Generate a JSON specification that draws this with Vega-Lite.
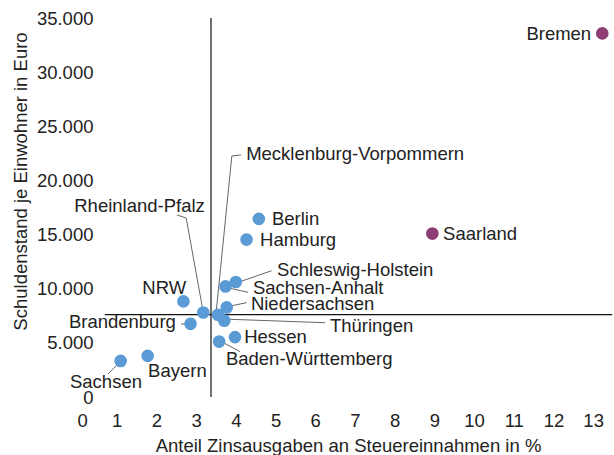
{
  "$schema": "https://vega.github.io/schema/vega-lite/v6.json",
  "width": 536,
  "height": 379,
  "autosize": {"type": "none"},
  "padding": {"left": 77, "top": 18, "right": 1, "bottom": 58},
  "config": {
    "view": {"stroke": null},
    "font": "Liberation Sans",
    "text": {"font": "Liberation Sans", "fontSize": 18.5, "color": "#222222"}
  },
  "datasets": {
    "laender": [
      {"land": "Bremen", "zins": 13.23, "schulden": 33580, "gruppe": "Haushaltsnotlage"},
      {"land": "Saarland", "zins": 8.95, "schulden": 15090, "gruppe": "Haushaltsnotlage"},
      {"land": "Berlin", "zins": 4.58, "schulden": 16450, "gruppe": "übrige"},
      {"land": "Hamburg", "zins": 4.27, "schulden": 14540, "gruppe": "übrige"},
      {"land": "Schleswig-Holstein", "zins": 4.0, "schulden": 10620, "gruppe": "übrige"},
      {"land": "Sachsen-Anhalt", "zins": 3.74, "schulden": 10210, "gruppe": "übrige"},
      {"land": "Niedersachsen", "zins": 3.77, "schulden": 8270, "gruppe": "übrige"},
      {"land": "Mecklenburg-Vorpommern", "zins": 3.55, "schulden": 7600, "gruppe": "übrige"},
      {"land": "Thüringen", "zins": 3.71, "schulden": 7050, "gruppe": "übrige"},
      {"land": "Hessen", "zins": 3.98, "schulden": 5530, "gruppe": "übrige"},
      {"land": "Baden-Württemberg", "zins": 3.58, "schulden": 5120, "gruppe": "übrige"},
      {"land": "Rheinland-Pfalz", "zins": 3.18, "schulden": 7800, "gruppe": "übrige"},
      {"land": "NRW", "zins": 2.68, "schulden": 8830, "gruppe": "übrige"},
      {"land": "Brandenburg", "zins": 2.86, "schulden": 6760, "gruppe": "übrige"},
      {"land": "Bayern", "zins": 1.78, "schulden": 3800, "gruppe": "übrige"},
      {"land": "Sachsen", "zins": 1.1, "schulden": 3330, "gruppe": "übrige"}
    ],
    "beschriftung": [
      {"land": "Bremen", "lx": 12.95, "ly": 33520},
      {"land": "Saarland", "lx": 9.22, "ly": 15050},
      {"land": "Berlin", "lx": 4.91, "ly": 16440},
      {"land": "Hamburg", "lx": 4.61, "ly": 14500},
      {"land": "Schleswig-Holstein", "lx": 5.04, "ly": 11770},
      {"land": "Sachsen-Anhalt", "lx": 4.43, "ly": 10070},
      {"land": "Niedersachsen", "lx": 4.38, "ly": 8590},
      {"land": "Thüringen", "lx": 6.37, "ly": 6560},
      {"land": "Hessen", "lx": 4.21, "ly": 5540},
      {"land": "Baden-Württemberg", "lx": 3.75, "ly": 3510},
      {"land": "Mecklenburg-Vorpommern", "lx": 4.26, "ly": 22440},
      {"land": "Rheinland-Pfalz", "lx": 3.22, "ly": 17640},
      {"land": "NRW", "lx": 2.75, "ly": 10070},
      {"land": "Brandenburg", "lx": 2.49, "ly": 6930},
      {"land": "Sachsen", "lx": 0.73, "ly": 1390},
      {"land": "Bayern", "lx": 1.79, "ly": 2400}
    ],
    "fuehrung": [
      {"land": "Schleswig-Holstein", "i": 1, "x": 4.06, "y": 10590},
      {"land": "Schleswig-Holstein", "i": 2, "x": 4.9, "y": 11660},
      {"land": "Sachsen-Anhalt", "i": 1, "x": 3.85, "y": 10040},
      {"land": "Sachsen-Anhalt", "i": 2, "x": 4.31, "y": 9670},
      {"land": "Niedersachsen", "i": 1, "x": 3.9, "y": 8430},
      {"land": "Niedersachsen", "i": 2, "x": 4.27, "y": 8710},
      {"land": "Thüringen", "i": 1, "x": 3.68, "y": 7200},
      {"land": "Thüringen", "i": 2, "x": 6.25, "y": 6860},
      {"land": "Baden-Württemberg", "i": 1, "x": 3.64, "y": 5110},
      {"land": "Baden-Württemberg", "i": 2, "x": 4.11, "y": 4180},
      {"land": "Mecklenburg-Vorpommern", "i": 1, "x": 4.13, "y": 22350},
      {"land": "Mecklenburg-Vorpommern", "i": 2, "x": 3.9, "y": 22260},
      {"land": "Mecklenburg-Vorpommern", "i": 3, "x": 3.5, "y": 7660},
      {"land": "Rheinland-Pfalz", "i": 1, "x": 2.52, "y": 16810},
      {"land": "Rheinland-Pfalz", "i": 2, "x": 2.75, "y": 16530},
      {"land": "Rheinland-Pfalz", "i": 3, "x": 3.17, "y": 8030},
      {"land": "Brandenburg", "i": 1, "x": 2.62, "y": 6740},
      {"land": "Brandenburg", "i": 2, "x": 2.79, "y": 6740},
      {"land": "Sachsen", "i": 1, "x": 0.78, "y": 2120},
      {"land": "Sachsen", "i": 2, "x": 1.03, "y": 3050}
    ],
    "mittel": [
      {"zins": 3.375, "zins0": 0.7, "zins1": 13.48, "schulden": 7600, "s0": 0, "s1": 35000}
    ]
  },
  "encoding": {
    "x": {
      "type": "quantitative",
      "scale": {"domain": [0, 13.5], "nice": false, "zero": false}
    },
    "y": {
      "type": "quantitative",
      "scale": {"domain": [0, 35000], "nice": false}
    }
  },
  "layer": [
    {
      "data": {"name": "mittel"},
      "mark": {"type": "rule", "color": "#111111", "strokeWidth": 1.2, "clip": false},
      "encoding": {
        "x": {"field": "zins", "type": "quantitative", "scale": {"domain": [0, 13.5], "nice": false},
          "title": "Anteil Zinsausgaben an Steuereinnahmen in %",
          "axis": {
            "values": [0, 1, 2, 3, 4, 5, 6, 7, 8, 9, 10, 11, 12, 13],
            "domain": false, "ticks": false, "grid": false,
            "labelFont": "Liberation Sans", "labelFontSize": 18.5, "labelColor": "#222222",
            "labelPadding": 14, "labelBaseline": "top",
            "titleFont": "Liberation Sans", "titleFontSize": 18.5, "titleFontWeight": "normal", "titleColor": "#222222",
            "titleX": 271, "titleY": 48, "titleBaseline": "middle", "titleAnchor": null
          }
        },
        "y": {"field": "s0", "type": "quantitative", "scale": {"domain": [0, 35000], "nice": false},
          "title": "Schuldenstand je Einwohner in Euro",
          "axis": {
            "values": [0, 5000, 10000, 15000, 20000, 25000, 30000, 35000],
            "labelExpr": "replace(format(datum.value, ',d'), ',', '.')",
            "domain": false, "ticks": false, "grid": false,
            "labelFont": "Liberation Sans", "labelFontSize": 18.5, "labelColor": "#222222",
            "labelPadding": -16,
            "titleFont": "Liberation Sans", "titleFontSize": 18.5, "titleFontWeight": "normal", "titleColor": "#222222",
            "titleX": -57, "titleY": 163, "titleBaseline": "middle", "titleAngle": -90, "titleAnchor": null
          }
        },
        "y2": {"field": "s1"}
      }
    },
    {
      "data": {"name": "mittel"},
      "mark": {"type": "rule", "color": "#111111", "strokeWidth": 1.2, "clip": false},
      "encoding": {
        "x": {"field": "zins0", "type": "quantitative"},
        "x2": {"field": "zins1"},
        "y": {"field": "schulden", "type": "quantitative"}
      }
    },
    {
      "data": {"name": "fuehrung"},
      "mark": {"type": "line", "color": "#666666", "strokeWidth": 1},
      "encoding": {
        "x": {"field": "x", "type": "quantitative"},
        "y": {"field": "y", "type": "quantitative"},
        "detail": {"field": "land"},
        "order": {"field": "i"}
      }
    },
    {
      "data": {"name": "laender"},
      "mark": {"type": "circle", "size": 160, "opacity": 1},
      "encoding": {
        "x": {"field": "zins", "type": "quantitative"},
        "y": {"field": "schulden", "type": "quantitative"},
        "color": {
          "field": "gruppe", "type": "nominal", "legend": null,
          "scale": {"domain": ["übrige", "Haushaltsnotlage"], "range": ["#5b9bd5", "#8e3e74"]}
        }
      }
    },
    {
      "data": {"name": "beschriftung"},
      "transform": [{"filter": {"field": "land", "oneOf": ["Saarland", "Berlin", "Hamburg", "Schleswig-Holstein", "Sachsen-Anhalt", "Niedersachsen", "Thüringen", "Hessen", "Baden-Württemberg", "Mecklenburg-Vorpommern", "Bayern"]}}],
      "mark": {"type": "text", "align": "left", "baseline": "middle"},
      "encoding": {
        "x": {"field": "lx", "type": "quantitative"},
        "y": {"field": "ly", "type": "quantitative"},
        "text": {"field": "land"}
      }
    },
    {
      "data": {"name": "beschriftung"},
      "transform": [{"filter": {"field": "land", "oneOf": ["Bremen", "Rheinland-Pfalz", "NRW", "Brandenburg"]}}],
      "mark": {"type": "text", "align": "right", "baseline": "middle"},
      "encoding": {
        "x": {"field": "lx", "type": "quantitative"},
        "y": {"field": "ly", "type": "quantitative"},
        "text": {"field": "land"}
      }
    },
    {
      "data": {"name": "beschriftung"},
      "transform": [{"filter": {"field": "land", "oneOf": ["Sachsen"]}}],
      "mark": {"type": "text", "align": "center", "baseline": "middle"},
      "encoding": {
        "x": {"field": "lx", "type": "quantitative"},
        "y": {"field": "ly", "type": "quantitative"},
        "text": {"field": "land"}
      }
    }
  ]
}
